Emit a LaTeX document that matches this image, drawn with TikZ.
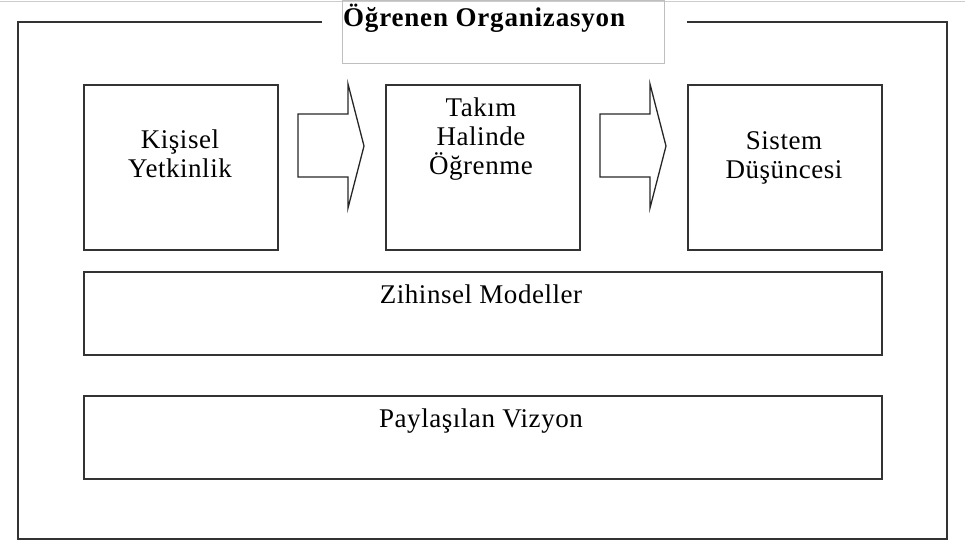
\documentclass[tikz,border=0pt]{standalone}
\usepackage{fontspec}
\setmainfont{Liberation Serif}
\begin{document}
\begin{tikzpicture}[x=1pt,y=-1pt,
  frame/.style={draw=black!80,line width=1.6pt},
  blk/.style={draw=black!80,line width=1.5pt,fill=white,inner sep=0pt,anchor=north west},
  lbl/.style={font=\fontsize{27}{29}\selectfont\addfontfeatures{LetterSpace=2},align=center,anchor=base,inner sep=0pt},
  blockarrow/.style={draw=black!85,line width=1.3pt,line join=miter}]
\useasboundingbox (0,0) rectangle (965,542);
% faint page line at top
\draw[black!20,line width=0.8pt] (0,1) -- (965,1);
% outer frame with gap for the title
\coordinate (tl) at (18,22);
\coordinate (tr) at (947,22);
\coordinate (bl) at (18,539);
\coordinate (br) at (947,539);
\coordinate (gapL) at (322,22);
\coordinate (gapR) at (687,22);
\draw[frame] (gapL) -- (tl) -- (bl) -- (br) -- (tr) -- (gapR);
% title box
\node[draw=black!25,line width=1pt,inner sep=0pt,minimum width=322pt,minimum height=63pt,anchor=north west] (titlebox) at (342,0) {};
\node[font=\fontsize{27}{30}\selectfont\bfseries\addfontfeatures{LetterSpace=3},anchor=base west,inner sep=0pt] (title) at (343,26) {Öğrenen Organizasyon};
% three boxes
\node[blk,minimum width=194pt,minimum height=165pt] (b1) at (83,84) {};
\node[blk,minimum width=194pt,minimum height=165pt] (b2) at (385,84) {};
\node[blk,minimum width=194pt,minimum height=165pt] (b3) at (687,84) {};
\node[lbl] (t1) at (180,177) {Kişisel\\Yetkinlik};
\node[lbl] (t2) at (481,174) {Takım\\Halinde\\Öğrenme};
\node[lbl] (t3) at (784,178) {Sistem\\Düşüncesi};
% block arrows
\draw[blockarrow] (298,114) -- (348,114) -- (348,84) -- (364,146) -- (348,208) -- (348,177) -- (298,177) -- cycle;
\draw[blockarrow] (600,114) -- (650,114) -- (650,84) -- (666,146) -- (650,208) -- (650,177) -- (600,177) -- cycle;
% wide boxes
\node[blk,minimum width=798pt,minimum height=83pt] (zm) at (83,271) {};
\node[blk,minimum width=798pt,minimum height=83pt] (pv) at (83,395) {};
\node[lbl] (tzm) at (481,303) {Zihinsel Modeller};
\node[lbl] (tpv) at (481,427) {Paylaşılan Vizyon};
\end{tikzpicture}
\end{document}
